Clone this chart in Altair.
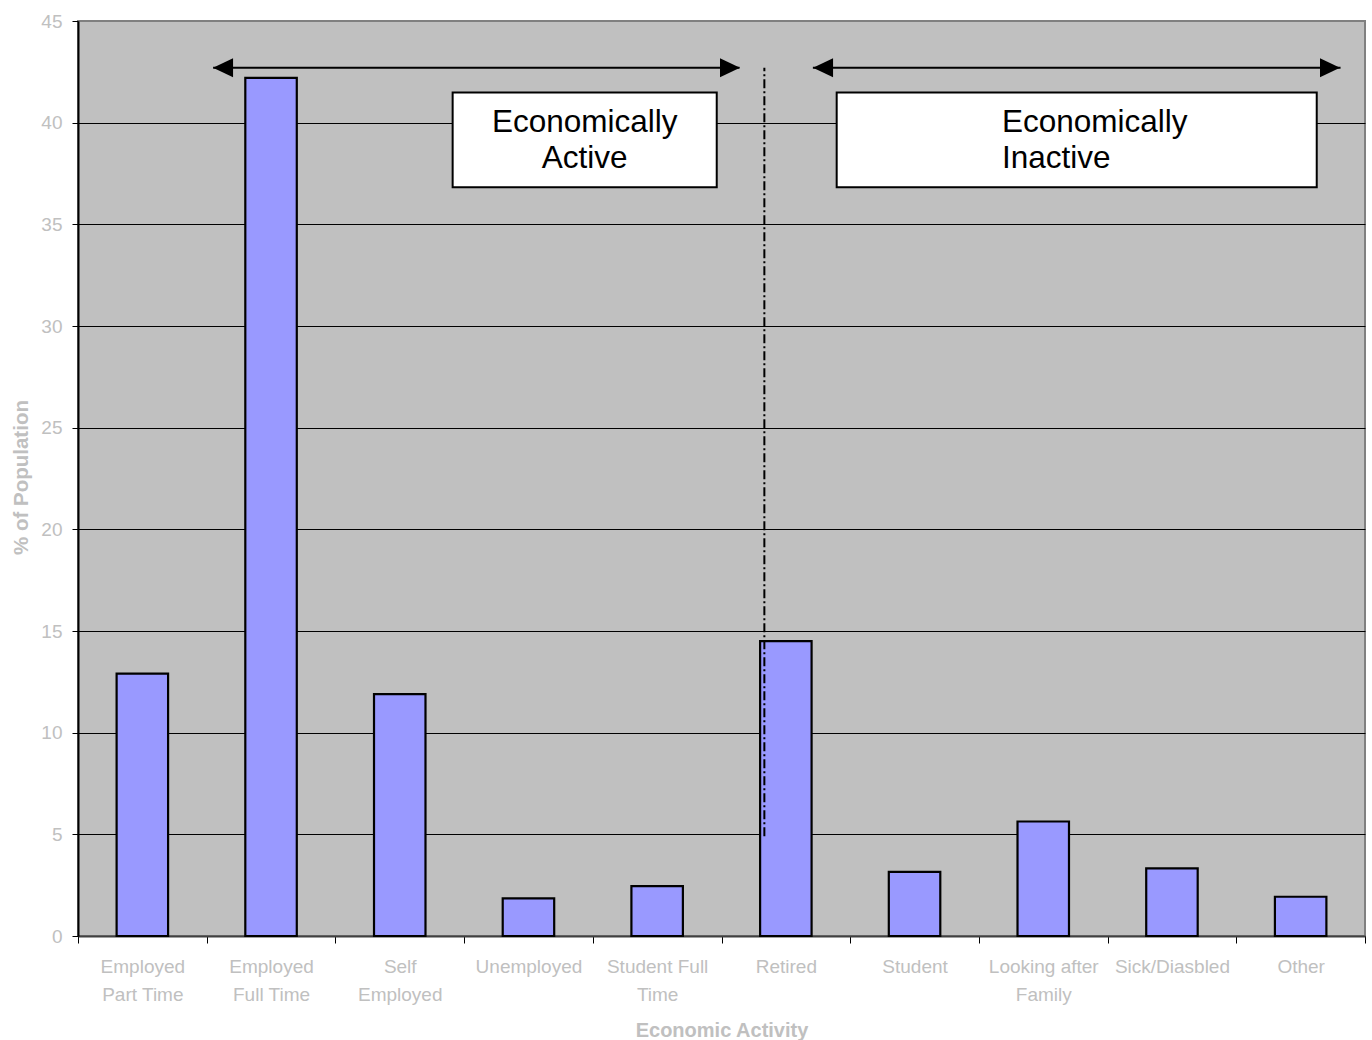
import altair as alt
import pandas as pd

# Survey result: share of the population by economic activity
categories = [
    "Employed Part Time", "Employed Full Time", "Self Employed", "Unemployed",
    "Student Full Time", "Retired", "Student", "Looking after Family",
    "Sick/Diasbled", "Other",
]
label_lines = [
    ["Employed", "Part Time"], ["Employed", "Full Time"], ["Self", "Employed"],
    ["Unemployed"], ["Student Full", "Time"], ["Retired"], ["Student"],
    ["Looking after", "Family"], ["Sick/Diasbled"], ["Other"],
]
percent = [12.9, 42.2, 11.9, 1.85, 2.45, 14.5, 3.15, 5.63, 3.33, 1.93]

# Annotation geometry on a 0-10 category-position scale, y in % units
arrow_start = [1.05, 5.71]
arrow_end = [5.14, 9.81]
arrow_y = [42.7, 42.7]
head_left_x = [1.127, 5.789]
head_right_x = [5.066, 9.728]
divider_x = [5.333]
divider_y = [4.9]
divider_y2 = [42.7]
box_x = [2.911, 5.895]
box_x2 = [4.963, 9.625]
box_y = [41.48, 41.48]
box_y2 = [36.82, 36.82]
active_text = ["Economically", "Active"]
inactive_text = ["Economically", "Inactive"]
active_pos = (3.937, 39.55)
inactive_pos = (7.179, 39.55)

bars_df = pd.DataFrame({"activity": categories, "percent": percent})

FONT = "Liberation Sans"
GREY_TEXT = "#c0c0c0"
Y_SCALE = alt.Scale(domain=[0, 45], nice=False, zero=True)
POS_SCALE = alt.Scale(domain=[0, 10], nice=False, zero=False)

Y_AXIS = alt.Axis(
    title="% of Population",
    values=list(range(0, 50, 5)),
    grid=True,
    gridColor={"condition": {"test": "datum.value == 45", "value": "#808080"},
               "value": "black"},
    gridWidth=1,
    labelFont=FONT,
    labelFontSize=19,
    labelColor=GREY_TEXT,
    labelPadding=10,
    tickSize=6,
    tickColor="black",
    domainColor="black",
    domainWidth=2,
    titleFont=FONT,
    titleFontSize=20.5,
    titleFontWeight="bold",
    titleColor=GREY_TEXT,
    titleX=-57,
    titleY=456,
    titleBaseline="middle",
)

label_expr = ""
for name, lines in zip(categories, label_lines):
    arr = "[" + ",".join("'" + s + "'" for s in lines) + "]"
    label_expr += f"datum.value == '{name}' ? {arr} : "
label_expr += "datum.value"

bars = alt.Chart(bars_df).mark_bar(
    fill="#9999ff", stroke="black", strokeWidth=2.2, width=alt.RelativeBandSize(0.4)
).encode(
    x=alt.X(
        "activity:N",
        sort=categories,
        scale=alt.Scale(paddingInner=0, paddingOuter=0),
        axis=alt.Axis(
            title="Economic Activity",
            labelExpr=label_expr,
            labelAngle=0,
            labelFont=FONT,
            labelFontSize=19,
            labelColor=GREY_TEXT,
            labelLineHeight=28,
            labelPadding=14,
            tickBand="extent",
            tickSize=7,
            tickColor="black",
            tickWidth=1,
            domainColor="#404040",
            domainWidth=2,
            titleFont=FONT,
            titleFontSize=20,
            titleFontWeight="bold",
            titleColor=GREY_TEXT,
            titleY=100,
            titleBaseline="alphabetic",
        ),
    ),
    y=alt.Y("percent:Q", scale=Y_SCALE, axis=Y_AXIS),
)

arrows_df = pd.DataFrame({"x": arrow_start, "x2": arrow_end, "y": arrow_y})
arrows = alt.Chart(arrows_df).mark_rule(color="black", strokeWidth=2).encode(
    x=alt.X("x:Q", scale=POS_SCALE, axis=None),
    x2="x2:Q",
    y=alt.Y("y:Q", scale=Y_SCALE, axis=Y_AXIS),
)

heads_left = alt.Chart(pd.DataFrame({"x": head_left_x, "y": arrow_y})).mark_point(
    shape="M-1,0L1,-0.95L1,0.95Z", size=400, filled=True, color="black", opacity=1
).encode(
    x=alt.X("x:Q", scale=POS_SCALE, axis=None),
    y=alt.Y("y:Q", scale=Y_SCALE, axis=Y_AXIS),
)

heads_right = alt.Chart(pd.DataFrame({"x": head_right_x, "y": arrow_y})).mark_point(
    shape="M1,0L-1,-0.95L-1,0.95Z", size=400, filled=True, color="black", opacity=1
).encode(
    x=alt.X("x:Q", scale=POS_SCALE, axis=None),
    y=alt.Y("y:Q", scale=Y_SCALE, axis=Y_AXIS),
)

divider = alt.Chart(
    pd.DataFrame({"x": divider_x, "y": divider_y, "y2": divider_y2})
).mark_rule(color="black", strokeWidth=2, strokeDash=[9, 3, 2, 3]).encode(
    x=alt.X("x:Q", scale=POS_SCALE, axis=None),
    y=alt.Y("y:Q", scale=Y_SCALE, axis=Y_AXIS),
    y2="y2:Q",
)

boxes = alt.Chart(
    pd.DataFrame({"x": box_x, "x2": box_x2, "y": box_y, "y2": box_y2})
).mark_rect(fill="white", stroke="black", strokeWidth=2).encode(
    x=alt.X("x:Q", scale=POS_SCALE, axis=None),
    x2="x2:Q",
    y=alt.Y("y:Q", scale=Y_SCALE, axis=Y_AXIS),
    y2="y2:Q",
)


def box_label(lines, pos, align):
    df = pd.DataFrame({"x": [pos[0]], "y": [pos[1]], "t": [lines]})
    return alt.Chart(df).mark_text(
        font=FONT, fontSize=31.5, lineHeight=36, color="black",
        align=align, baseline="alphabetic",
    ).encode(
        x=alt.X("x:Q", scale=POS_SCALE, axis=None),
        y=alt.Y("y:Q", scale=Y_SCALE, axis=Y_AXIS),
        text="t",
    )


chart = alt.layer(
    bars,
    divider,
    arrows,
    heads_left,
    heads_right,
    boxes,
    box_label(active_text, active_pos, "center"),
    box_label(inactive_text, inactive_pos, "left"),
).resolve_scale(
    x="independent"
).properties(
    width=1287,
    height=915,
    autosize=alt.AutoSizeParams(type="none"),
    padding={"left": 78, "top": 21, "right": 7, "bottom": 104},
    background="white",
).configure_view(
    fill="#c0c0c0",
    stroke="#808080",
    strokeWidth=2,
)

chart.save("out.html", embed_options={"renderer": "svg", "actions": False})
